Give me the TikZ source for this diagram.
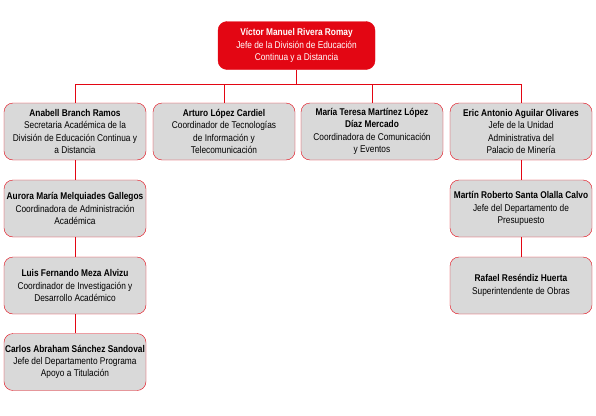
\documentclass[tikz,border=0pt]{standalone}
\usepackage{fontspec}
\setmainfont{Liberation Sans}[FakeStretch=0.85]
\usetikzlibrary{positioning}
\definecolor{unamred}{HTML}{E30613}
\definecolor{boxgray}{HTML}{D9D9D9}

\begin{document}
\begin{tikzpicture}[
      x=1pt,y=-1pt,node distance=77pt,on grid,
      every node/.style={align=center,font=\fontsize{9.8}{12.4}\selectfont},
      head/.style={fill=unamred,draw=unamred,text=white,rounded corners=9pt,
        minimum width=157pt,minimum height=48pt,inner sep=1pt},
      unit/.style={fill=boxgray,draw=unamred,rounded corners=9pt,
        minimum width=142pt,minimum height=57pt,inner sep=1pt},
      link/.style={draw=unamred,line width=0.8pt}
      ]
      \useasboundingbox (0,0) rectangle (596,415);

      \node[head] (p_0) at (296.5,45.5) {\textbf{Víctor Manuel Rivera Romay}\\Jefe de la División de Educación\\Continua y a Distancia};

      \node[unit] (p_1) at (75,131.5) {\textbf{Anabell Branch Ramos}\\Secretaria Académica de la\\División de Educación Continua y\\a Distancia};
      \node[unit] (p_2) [right=149pt of p_1] {\textbf{Arturo López Cardiel}\\Coordinador de Tecnologías\\de Información y\\Telecomunicación};
      \node[unit] (p_3) [right=148pt of p_2] {\textbf{María Teresa Martínez López}\\\textbf{Díaz Mercado}\\Coordinadora de Comunicación\\y Eventos};
      \node[unit] (p_4) [right=149pt of p_3] {\textbf{Eric Antonio Aguilar Olivares}\\Jefe de la Unidad\\Administrativa del\\Palacio de Minería};

      \node[unit] (l_1) [below=of p_1] {\textbf{Aurora María Melquiades Gallegos}\\Coordinadora de Administración\\Académica};
      \node[unit] (l_2) [below=of l_1] {\textbf{Luis Fernando Meza Alvizu}\\Coordinador de Investigación y\\Desarrollo Académico};
      \node[unit] (l_3) [below=76.5pt of l_2] {\textbf{Carlos Abraham Sánchez Sandoval}\\Jefe del Departamento Programa\\Apoyo a Titulación};

      \node[unit] (r_1) [below=of p_4] {\textbf{Martín Roberto Santa Olalla Calvo}\\Jefe del Departamento de\\Presupuesto};
      \node[unit] (r_2) [below=of r_1] {\textbf{Rafael Reséndiz Huerta}\\Superintendente de Obras};

      % connectors
      \coordinate (bus) at (296.5,84.5);
      \draw[link] (p_0) -- (bus);
      \foreach \n in {p_1,p_2,p_3,p_4}
        \draw[link] (bus) -| (\n.north);
      \draw[link] (p_1) -- (l_1);
      \draw[link] (l_1) -- (l_2);
      \draw[link] (l_2) -- (l_3);
      \draw[link] (p_4) -- (r_1);
      \draw[link] (r_1) -- (r_2);
    \end{tikzpicture}
\end{document}
